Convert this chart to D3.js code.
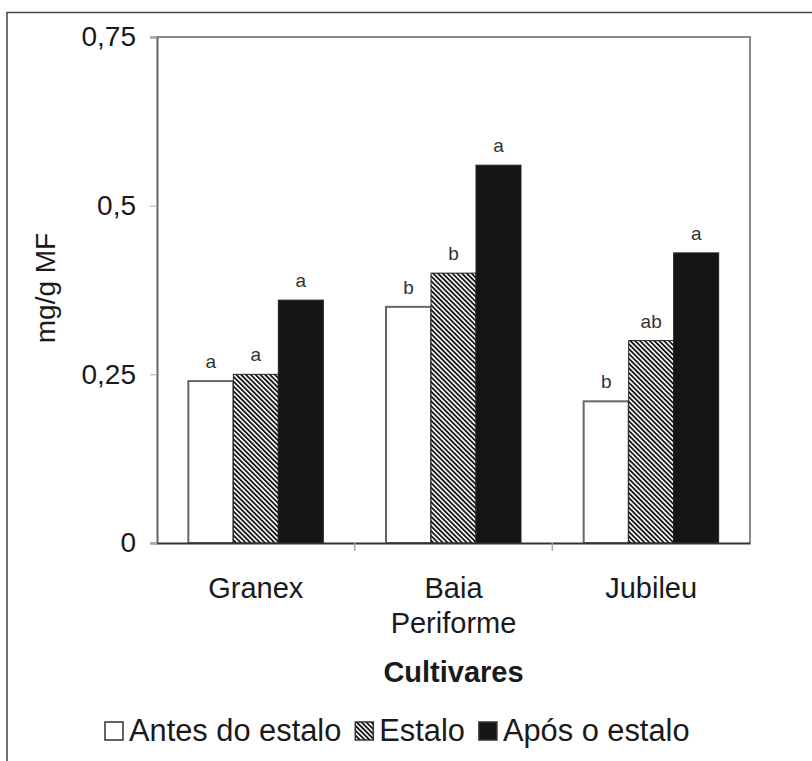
<!DOCTYPE html>
<html>
<head>
<meta charset="utf-8">
<script src="https://cdn.jsdelivr.net/npm/d3@7"></script>
<style>
  body { margin: 0; background: #fff; }
  text { font-family: "Liberation Sans", Arial, sans-serif; fill: #1a1a1a; }
</style>
</head>
<body>
<div id="chart"></div>
<script>
var cultivares = ['Granex', 'Baia Periforme', 'Jubileu'];
var series = ['Antes do estalo', 'Estalo', 'Após o estalo'];
var antes = [0.24, 0.35, 0.21];
var estalo = [0.25, 0.40, 0.30];
var apos = [0.36, 0.56, 0.43];
var letrasAntes = ['a', 'b', 'b'];
var letrasEstalo = ['a', 'b', 'ab'];
var letrasApos = ['a', 'a', 'a'];
var yTicks = [0, 0.25, 0.5, 0.75];

var values = [antes, estalo, apos];
var letras = [letrasAntes, letrasEstalo, letrasApos];

var W = 812, H = 761;
var margin = { top: 37, left: 157, right: 62, bottom: 218 };
var pw = W - margin.left - margin.right,
    ph = H - margin.top - margin.bottom;

var svg = d3.select('#chart').append('svg')
    .attr('width', W)
    .attr('height', H);

// hatch pattern for "Estalo" ( \\\ direction )
var defs = svg.append('defs');
var pat = defs.append('pattern')
    .attr('id', 'hatch')
    .attr('patternUnits', 'userSpaceOnUse')
    .attr('width', 3.4)
    .attr('height', 3.4)
    .attr('patternTransform', 'rotate(-45)');
pat.append('rect').attr('width', 3.4).attr('height', 3.4).attr('fill', '#fff');
pat.append('rect').attr('width', 1.8).attr('height', 3.4).attr('fill', '#161616');

var fills = ['#fff', 'url(#hatch)', '#151515'];

// outer frame (only top and left visible)
svg.append('path')
    .attr('d', 'M7,761 V12.5 H812')
    .attr('fill', 'none')
    .attr('stroke', '#444')
    .attr('stroke-width', 1.5);

var g = svg.append('g')
    .attr('transform', 'translate(' + margin.left + ',' + margin.top + ')');

var x = d3.scaleBand().domain(cultivares).range([0, pw]);
var y = d3.scaleLinear().domain([0, 0.75]).range([ph, 0]);

var barW = 45;
var groupOff = (x.bandwidth() - barW * 3) / 2;

// plot border top/right
g.append('path')
    .attr('d', 'M0,0 H' + pw + ' V' + ph)
    .attr('fill', 'none')
    .attr('stroke', '#8a8a8a')
    .attr('stroke-width', 2);

// bars
for (var s = 0; s < series.length; s++) {
    g.selectAll('.bar' + s)
        .data(values[s])
        .enter()
        .append('rect')
        .attr('x', function(d, i) { return x(cultivares[i]) + groupOff + s * barW; })
        .attr('y', function(d) { return y(d); })
        .attr('width', barW)
        .attr('height', function(d) { return ph - y(d); })
        .attr('fill', fills[s])
        .attr('stroke', s === 0 ? '#666' : '#222')
        .attr('stroke-width', s === 0 ? 2 : 1);

    g.selectAll('.lab' + s)
        .data(values[s])
        .enter()
        .append('text')
        .attr('x', function(d, i) { return x(cultivares[i]) + groupOff + s * barW + barW / 2; })
        .attr('y', function(d) { return y(d) - 13; })
        .attr('text-anchor', 'middle')
        .style('font-size', '19px')
        .style('fill', '#333')
        .text(function(d, i) { return letras[s][i]; });
}

// y axis
var yAxis = g.append('g')
    .call(d3.axisLeft(y).tickValues(yTicks).tickSize(7).tickPadding(14)
        .tickFormat(function(d) { return d3.format('')(d).replace('.', ','); }));
yAxis.select('.domain').attr('stroke', '#666').attr('stroke-width', 2);
yAxis.selectAll('.tick line').attr('stroke', '#aaa');
yAxis.selectAll('.tick text')
    .style('font-size', '28px')
    .attr('fill', '#1a1a1a');

// x axis
var xAxis = g.append('g')
    .attr('transform', 'translate(0,' + ph + ')')
    .call(d3.axisBottom(x).tickSize(0).tickFormat(''));
xAxis.select('.domain').attr('stroke', '#333').attr('stroke-width', 2);

// category separators below axis
g.selectAll('.sep')
    .data(cultivares.slice(1))
    .enter()
    .append('line')
    .attr('x1', function(d) { return x(d); })
    .attr('x2', function(d) { return x(d); })
    .attr('y1', ph)
    .attr('y2', ph + 8)
    .attr('stroke', '#aaa')
    .attr('stroke-width', 1.5);

// category labels (wrapped)
g.selectAll('.cat')
    .data(cultivares)
    .enter()
    .append('text')
    .attr('x', function(d) { return x(d) + x.bandwidth() / 2; })
    .attr('y', ph + 55)
    .attr('text-anchor', 'middle')
    .style('font-size', '29px')
    .each(function(d) {
        var words = d.split(' ');
        var t = d3.select(this);
        words.forEach(function(w, k) {
            t.append('tspan')
                .attr('x', x(d) + x.bandwidth() / 2)
                .attr('dy', k === 0 ? 0 : 35)
                .text(w);
        });
    });

// axis titles
g.append('text')
    .attr('x', pw / 2)
    .attr('y', ph + 139)
    .attr('text-anchor', 'middle')
    .style('font-size', '29px')
    .style('font-weight', 'bold')
    .text('Cultivares');

svg.append('text')
    .attr('transform', 'translate(55,288) rotate(-90)')
    .attr('text-anchor', 'middle')
    .style('font-size', '28px')
    .text('mg/g MF');

// legend
var legend = svg.append('g').attr('transform', 'translate(105,741)');
var lx = 0;
series.forEach(function(name, i) {
    legend.append('rect')
        .attr('x', lx)
        .attr('y', -19)
        .attr('width', 18)
        .attr('height', 18)
        .attr('fill', fills[i])
        .attr('stroke', '#333')
        .attr('stroke-width', 1.5);
    var t = legend.append('text')
        .attr('x', lx + 24)
        .attr('y', 0)
        .style('font-size', '30.8px')
        .text(name);
    lx += 24 + t.node().getComputedTextLength() + 14;
});
</script>
</body>
</html>
